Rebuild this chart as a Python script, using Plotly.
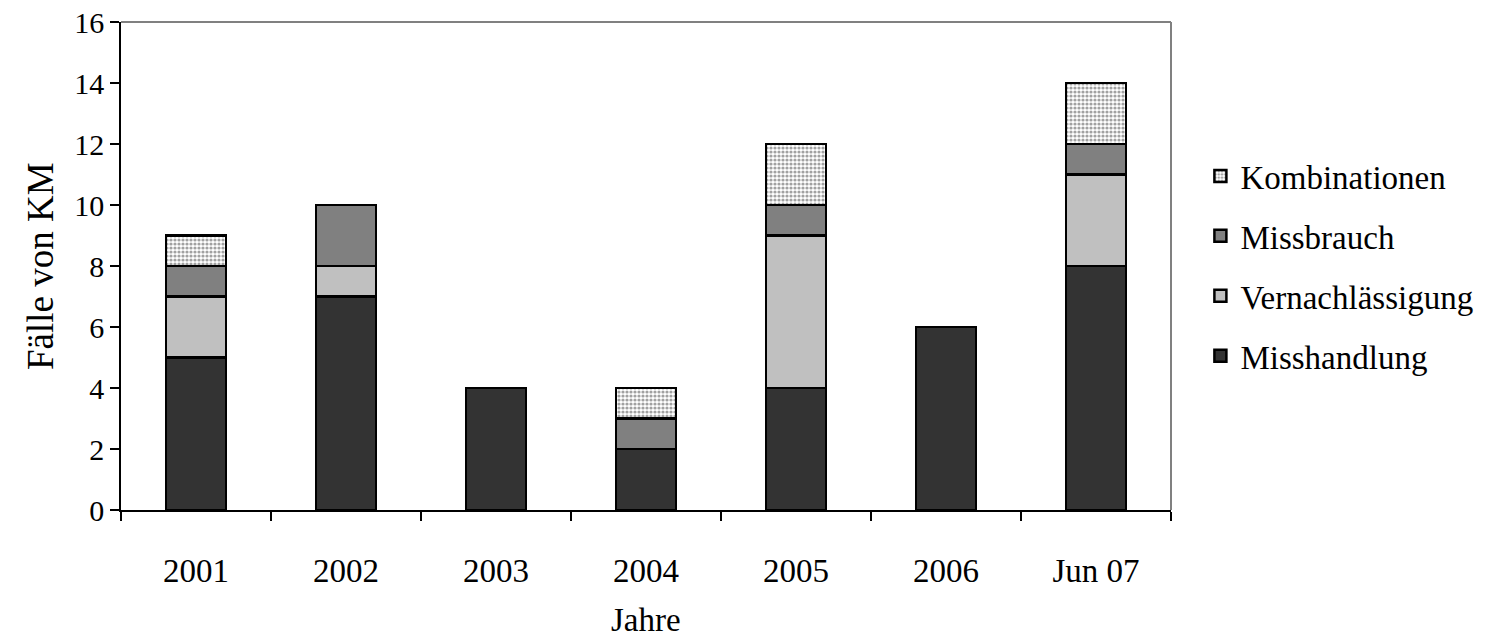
import plotly.graph_objects as go

jahre = ["2001", "2002", "2003", "2004", "2005", "2006", "Jun 07"]
misshandlung = [5, 7, 4, 2, 4, 6, 8]
vernachlaessigung = [2, 1, 0, 0, 5, 0, 3]
missbrauch = [1, 2, 0, 1, 1, 0, 1]
kombinationen = [1, 0, 0, 1, 2, 0, 2]

font = "Liberation Serif"
fs = 33

series = [
    ("Misshandlung", misshandlung, "#333333", None),
    ("Vernachlässigung", vernachlaessigung, "#c0c0c0", None),
    ("Missbrauch", missbrauch, "#808080", None),
    ("Kombinationen", kombinationen, "white",
     dict(shape=".", fgcolor="#444444", bgcolor="white", size=4, solidity=0.5)),
]

fig = go.Figure()
for i, (name, vals, col, pat) in enumerate(series):
    marker = dict(color=col, line=dict(color="black", width=2.5))
    if pat:
        marker["pattern"] = pat
    fig.add_trace(go.Bar(
        x=jahre, y=vals, name=name, marker=marker,
        width=0.4, legendgroup=str(i), legendrank=10 - i,
    ))

fig.update_layout(
    barmode="stack",
    width=1485, height=642,
    margin=dict(l=121, r=314, t=22, b=132, autoexpand=False),
    paper_bgcolor="white", plot_bgcolor="white",
    font=dict(family=font, size=fs, color="black"),
    showlegend=True,
    legend=dict(
        traceorder="grouped", tracegroupgap=14,
        x=1.028, y=0.5, xanchor="left", yanchor="middle",
        font=dict(size=fs), itemwidth=30,
    ),
    xaxis=dict(
        showline=True, linecolor="black", linewidth=1.5,
        ticks="outside", ticklen=9, tickcolor="black", tickwidth=1.5,
        tickson="boundaries", ticklabelstandoff=31,
        tickfont=dict(size=fs), automargin=False,
    ),
    yaxis=dict(
        range=[0, 16], dtick=2, showgrid=False, zeroline=False,
        showline=True, linecolor="black", linewidth=1.5,
        ticks="outside", ticklen=9, tickcolor="black", tickwidth=1.5,
        tickfont=dict(size=30), automargin=False, ticklabeloverflow="allow",
    ),
    annotations=[
        dict(text="Jahre", xref="paper", yref="paper", x=0.5, y=0,
             yshift=-110, xanchor="center", yanchor="middle",
             showarrow=False, font=dict(size=fs)),
        dict(text="Fälle von KM", xref="paper", yref="paper", x=0, y=0.5,
             xshift=-81, textangle=-90, xanchor="center", yanchor="middle",
             showarrow=False, font=dict(size=37)),
    ],
    shapes=[
        dict(type="line", xref="paper", yref="paper", x0=0, x1=1, y0=1, y1=1,
             line=dict(color="#808080", width=2)),
        dict(type="line", xref="paper", yref="paper", x0=1, x1=1, y0=0, y1=1,
             line=dict(color="#808080", width=2)),
    ],
)

# drop the browser's default 8px body margin so the figure fills the window
fig.write_html("out.html", config={"displayModeBar": False},
               post_script="document.body.style.margin = '0';")
